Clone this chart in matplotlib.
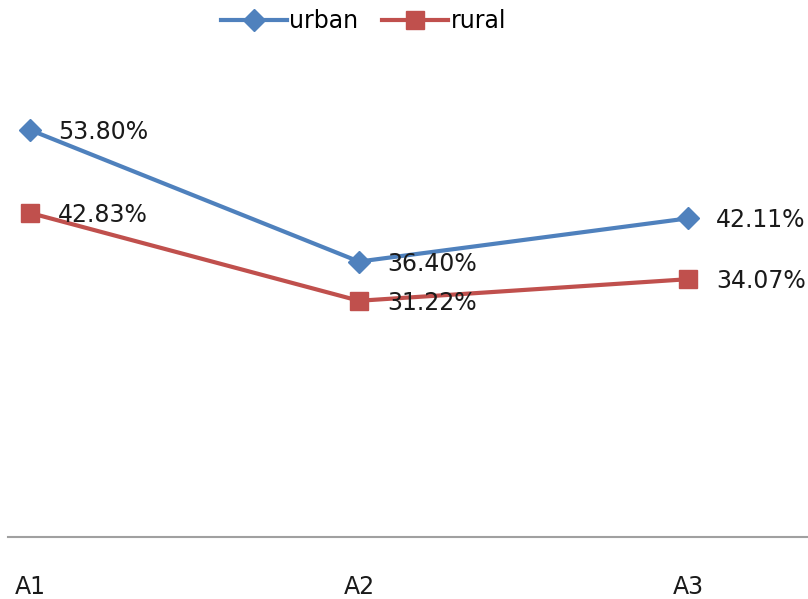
import matplotlib
matplotlib.use('Agg')
import matplotlib.pyplot as plt

plt.rcParams['font.family'] = ['Liberation Sans Narrow', 'DejaVu Sans']

categories = ['A1', 'A2', 'A3']
urban = [53.80, 36.40, 42.11]
rural = [42.83, 31.22, 34.07]

fig = plt.figure(figsize=(8.08, 5.99), dpi=100)
ax = fig.add_axes([8/808, 1 - 537/599, 800/808, 454/599])

x = list(range(len(categories)))
ax.plot(x, urban, color='#4F81BD', linewidth=3, marker='D', markersize=11,
        label='urban')
ax.plot(x, rural, color='#C0504D', linewidth=3, marker='s', markersize=13,
        label='rural')

# data labels to the right of each point
for xi, v in zip(x, urban):
    ax.annotate(f'{v:.2f}%', (xi, v), xytext=(20, -1.5), textcoords='offset points',
                va='center', ha='left', fontsize=17, color='#1a1a1a')
for xi, v in zip(x, rural):
    ax.annotate(f'{v:.2f}%', (xi, v), xytext=(20, -1.5), textcoords='offset points',
                va='center', ha='left', fontsize=17, color='#1a1a1a')

ax.set_xlim(-22/329, 2 + 120/329)
ax.set_ylim(0, 60)
ax.set_xticks(x)
ax.set_xticklabels(categories, fontsize=17, color='#1a1a1a')
ax.tick_params(axis='x', length=0, pad=27)
ax.set_yticks([])
for s in ['top', 'right', 'left']:
    ax.spines[s].set_visible(False)
ax.spines['bottom'].set_color('#a0a0a0')
ax.spines['bottom'].set_linewidth(1.5)

fig.legend(loc='upper center', bbox_to_anchor=(0.45, 1.02), ncol=2, frameon=False,
           fontsize=17, handlelength=2.8, handletextpad=0.1, columnspacing=1.0)

plt.savefig('out.png', dpi=100)
